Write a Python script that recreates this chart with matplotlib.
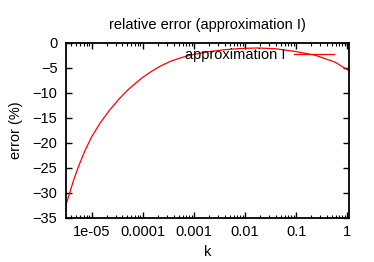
import numpy as np
import matplotlib.pyplot as plt
from matplotlib.ticker import LogLocator, NullFormatter, FixedLocator

plt.rcParams['font.family'] = ['Liberation Sans', 'DejaVu Sans']

# values
k = [3.1e-6, 3.55e-6, 4.44e-6, 5.56e-6, 7.49e-6, 1.01e-5, 1.47e-5,
     2.15e-5, 3.38e-5, 5.31e-5, 9.66e-5, 1.39e-4, 2.18e-4, 3.42e-4,
     5.36e-4, 8.42e-4, 1.79e-3, 3.78e-3, 8.02e-3, 1.71e-2, 3.89e-2,
     9.59e-2, 0.236, 0.582, 1.09]
err = [-32.6, -30.6, -27.4, -24.6, -21.4, -18.7, -16.0,
       -13.7, -11.3, -9.26, -7.02, -5.9, -4.7, -3.75,
       -3.05, -2.5, -1.85, -1.42, -1.16, -1.05, -1.2,
       -1.74, -2.5, -3.9, -5.6]

x_ticks = [1e-5, 1e-4, 1e-3, 1e-2, 1e-1, 1]
x_labels = ['1e-05', '0.0001', '0.001', '0.01', '0.1', '1']
y_ticks = [0, -5, -10, -15, -20, -25, -30, -35]

fs = 10.5
fig = plt.figure(figsize=(3.74, 2.62), dpi=100)
ax = fig.add_axes([0.1757, 0.168, 0.7583, 0.669])

ax.plot(k, err, color='red', linewidth=0.9, label='approximation I')

ax.set_xscale('log')
ax.set_xlim(3.1e-6, 1.1)
ax.set_ylim(-35, 0)
ax.xaxis.set_major_locator(FixedLocator(x_ticks))
ax.set_xticklabels(x_labels)
ax.xaxis.set_minor_locator(LogLocator(base=10, subs=np.arange(2, 10)))
ax.xaxis.set_minor_formatter(NullFormatter())
ax.set_yticks(y_ticks)

ax.tick_params(which='both', direction='in', top=True, right=True, labelsize=fs)
ax.tick_params(axis='x', which='major', length=4, width=1, pad=5)
ax.tick_params(axis='x', which='minor', length=2, width=0.8)
ax.tick_params(axis='y', which='major', length=4, width=1, pad=6)
for s in ax.spines.values():
    s.set_linewidth(1.3)

ax.set_title('relative error (approximation I)', fontsize=fs, pad=10)
ax.set_xlabel('k', fontsize=fs, labelpad=4.5)
ax.set_ylabel('error (%)', fontsize=fs, labelpad=7)

ax.legend(loc='upper right', bbox_to_anchor=(0.955, 0.985), frameon=False,
          markerfirst=False, handlelength=2.7, handletextpad=0.6,
          borderaxespad=0, borderpad=0.2, fontsize=fs)

fig.savefig('out.png', dpi=100)
